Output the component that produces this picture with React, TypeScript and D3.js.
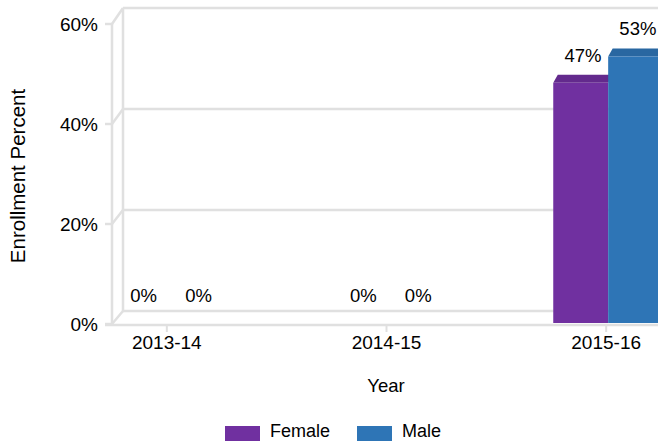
import React from 'react';
import * as d3 from 'd3';

const categories = ['2013-14', '2014-15', '2015-16'];
const seriesNames = ['Female', 'Male'];
const femaleValues = [0, 0, 47.4];
const maleValues = [0, 0, 52.6];
const yTicks = [0, 20, 40, 60];
const colors = ['#7030a0', '#2e75b6'];

const W = 658;
const H = 441;
const font = '"Liberation Sans", Arial, sans-serif';
const gridColor = '#e0e0e0';

// 3d offsets
const WALL_DX = 11;
const BAR_DX = 4.5;
const BAR_DY = -8;
const BAR_SHIFT = 2;

const App = () => {
    const x = d3.scaleBand().domain(categories).range([57, 716]);
    const xSub = d3.scaleBand().domain(seriesNames).range([x.bandwidth() / 4, (x.bandwidth() * 3) / 4]);
    const yFront = d3.scaleLinear().domain([0, 60]).range([324, 24]);
    const yBack = d3.scaleLinear().domain([0, 60]).range([311, 8]);
    const yBar = d3.scaleLinear().domain([0, 60]).range([323, 19]);

    const frontLeft = 112;
    const backLeft = frontLeft + WALL_DX;

    const series = [femaleValues, maleValues];

    return (
        <svg width={W} height={H} style={{ position: 'absolute', left: 0, top: 0, fontFamily: font }}>
            <rect width={W} height={H} fill="#fff" />

            {/* back wall + floor back edge */}
            <line x1={backLeft} x2={backLeft} y1={yBack(60)} y2={yBack(0)} stroke={gridColor} strokeWidth={2.5} />
            {yTicks.map(t => (
                <line key={'bg' + t} x1={backLeft} x2={W + 20} y1={yBack(t)} y2={yBack(t)} stroke={gridColor} strokeWidth={2.5} />
            ))}

            {/* side wall */}
            <line x1={frontLeft} x2={frontLeft} y1={yFront(60)} y2={yFront(0)} stroke={gridColor} strokeWidth={2.5} />
            {yTicks.map(t => (
                <g key={'side' + t}>
                    <line x1={frontLeft} x2={backLeft} y1={yFront(t)} y2={yBack(t)} stroke={gridColor} strokeWidth={2.5} />
                    <line x1={frontLeft - 7} x2={frontLeft} y1={yFront(t)} y2={yFront(t)} stroke={gridColor} strokeWidth={2.5} />
                    <text x={98} y={yFront(t)} dy="0.35em" textAnchor="end" fontSize={19} fill="#000">{t}%</text>
                </g>
            ))}

            {/* floor front edge */}
            <line x1={frontLeft - 7} x2={W + 20} y1={yFront(0) + 1} y2={yFront(0) + 1} stroke={gridColor} strokeWidth={2.5} />

            {/* x ticks and labels */}
            {categories.map(c => {
                const cx = (x(c) as number) + x.bandwidth() / 2;
                return (
                    <g key={'x' + c}>
                        <line x1={cx} x2={cx} y1={yFront(0) + 2} y2={yFront(0) + 8} stroke={gridColor} strokeWidth={2} />
                        <text x={cx} y={349} textAnchor="middle" fontSize={19} fill="#000">{c}</text>
                    </g>
                );
            })}

            {/* bars */}
            {categories.map((c, i) =>
                seriesNames.map((s, j) => {
                    const v = series[j][i];
                    const x0 = (x(c) as number) + (xSub(s) as number) + BAR_SHIFT;
                    const x1 = x0 + xSub.bandwidth();
                    const yt = yBar(v);
                    const yb = yBar(0);
                    const top = d3.color(colors[j])!.darker(0.35).toString();
                    return (
                        <g key={c + s}>
                            {v > 0 && (
                                <>
                                    <path
                                        d={`M${x0},${yt}L${x1},${yt}L${x1 + BAR_DX},${yt + BAR_DY}L${x0 + BAR_DX},${yt + BAR_DY}Z`}
                                        fill={top}
                                    />
                                    <rect x={x0} y={yt} width={x1 - x0} height={yb - yt} fill={colors[j]} />
                                </>
                            )}
                        </g>
                    );
                })
            )}

            {/* data labels */}
            {categories.map((c, i) =>
                seriesNames.map((s, j) => {
                    const v = series[j][i];
                    const cx = (x(c) as number) + (xSub(s) as number) + BAR_SHIFT + xSub.bandwidth() / 2 + BAR_DX / 2;
                    return (
                        <text key={'lbl' + c + s} x={cx} y={yBar(v) + BAR_DY - 13} textAnchor="middle" fontSize={18.5} fill="#000">
                            {Math.round(v)}%
                        </text>
                    );
                })
            )}

            {/* axis titles */}
            <text transform={`translate(25,176) rotate(-90)`} textAnchor="middle" fontSize={20.5} fill="#000">Enrollment Percent</text>
            <text x={386} y={392} textAnchor="middle" fontSize={18.5} fill="#000">Year</text>

            {/* legend */}
            {seriesNames.map((s, j) => {
                const lx = j === 0 ? 225 : 357;
                return (
                    <g key={'leg' + s}>
                        <rect x={lx} y={426} width={35} height={16} fill={colors[j]} />
                        <text x={lx + 45} y={437} fontSize={18} fill="#000">{s}</text>
                    </g>
                );
            })}
        </svg>
    );
};

export default App;
